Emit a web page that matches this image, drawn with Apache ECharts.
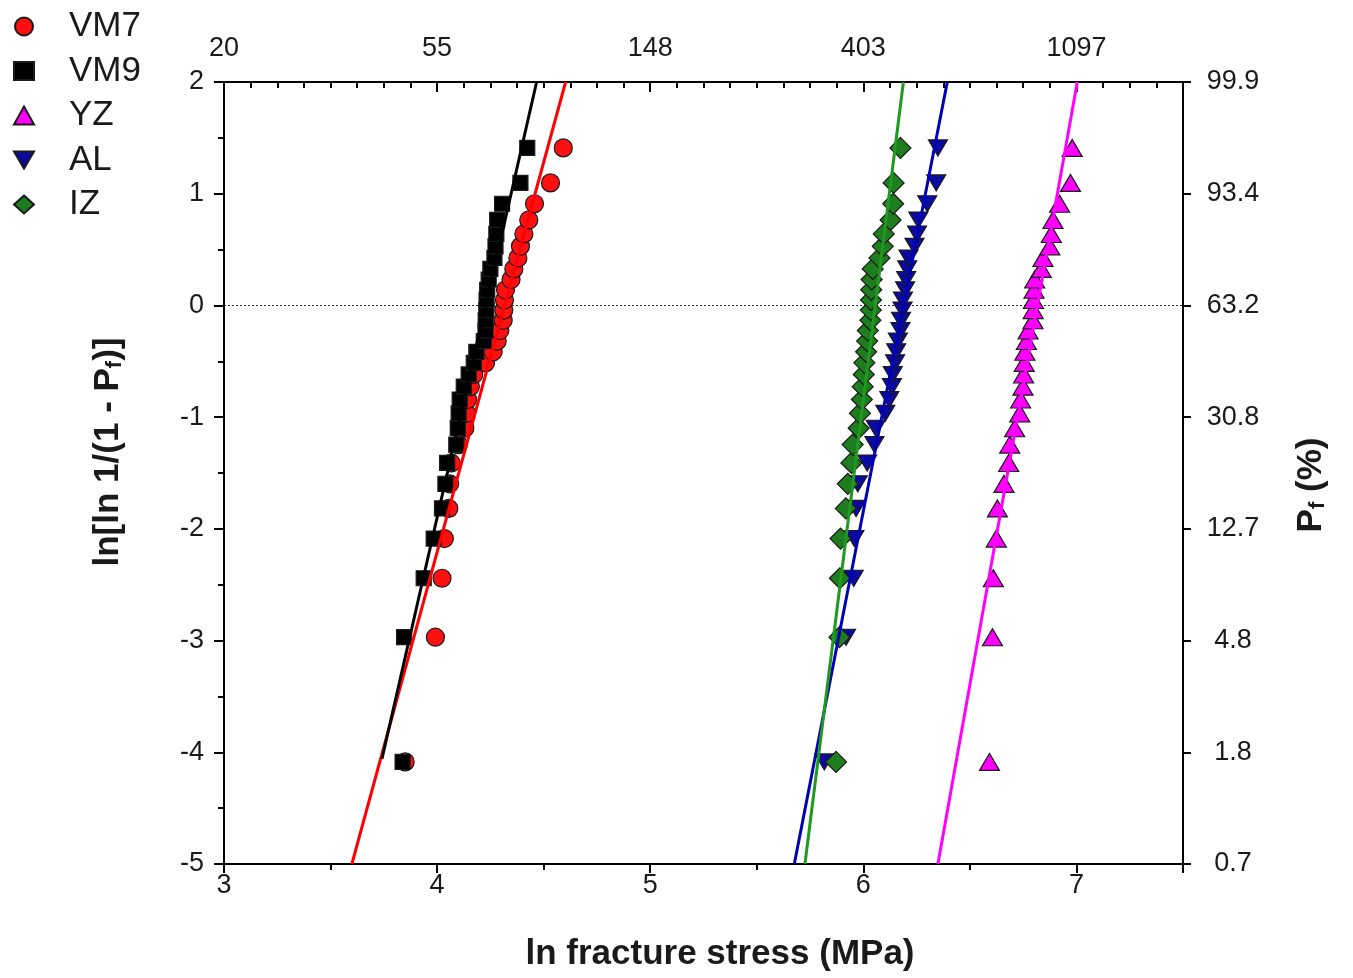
<!DOCTYPE html>
<html>
<head>
<meta charset="utf-8">
<script src="https://cdn.jsdelivr.net/npm/echarts@6/dist/echarts.min.js"></script>
<style>
html,body{margin:0;padding:0;background:#fff;}
#c{width:1353px;height:978px;}
</style>
</head>
<body>
<div id="c"></div>
<script>
// Weibull plotting positions (y) for ranks 1..30
const rankY = [-4.086,-2.970,-2.442,-2.087,-1.817,-1.597,-1.410,-1.246,-1.099,-0.966,
  -0.842,-0.727,-0.618,-0.514,-0.415,-0.319,-0.225,-0.133,-0.042,0.049,
  0.140,0.232,0.327,0.425,0.529,0.640,0.765,0.910,1.097,1.410];

// ln fracture stress for each rank
const vm7 = [3.850,3.992,4.023,4.034,4.055,4.059,4.066,4.100,4.130,4.138,
  4.143,4.156,4.172,4.227,4.263,4.282,4.294,4.310,4.313,4.316,
  4.321,4.347,4.360,4.379,4.391,4.407,4.430,4.457,4.532,4.592];
const vm9 = [3.838,3.845,3.937,3.984,4.023,4.039,4.047,4.090,4.097,4.101,
  4.106,4.125,4.148,4.172,4.184,4.219,4.227,4.228,4.231,4.232,
  4.235,4.242,4.250,4.269,4.274,4.278,4.282,4.305,4.391,4.423];
const yz = [6.592,6.606,6.610,6.624,6.629,6.660,6.682,6.687,6.710,6.734,
  6.738,6.749,6.752,6.755,6.758,6.765,6.773,6.796,6.797,6.798,
  6.801,6.804,6.835,6.843,6.875,6.882,6.890,6.921,6.972,6.980];
const al = [5.817,5.919,5.955,5.958,5.966,5.974,6.018,6.052,6.058,6.103,
  6.122,6.134,6.138,6.149,6.154,6.162,6.174,6.177,6.184,6.186,
  6.196,6.201,6.206,6.212,6.240,6.252,6.258,6.300,6.342,6.350];
const iz = [5.872,5.888,5.890,5.893,5.918,5.927,5.944,5.950,5.978,5.984,
  5.993,5.997,6.002,6.005,6.013,6.018,6.021,6.033,6.035,6.036,
  6.037,6.039,6.044,6.076,6.091,6.096,6.128,6.140,6.142,6.174];

// fitted lines (endpoints)
const vm7Fit = [[3.600,-5],[4.603,2]];
const vm9Fit = [[3.741,-4.06],[4.467,2]];
const yzFit = [[6.350,-5],[7.004,2]];
const alFit = [[5.676,-5],[6.394,2]];
const izFit = [[5.726,-5],[6.188,2]];

// tick labels
const bottomLabels = ['3','4','5','6','7'];
const topLabels = ['20','55','148','403','1097'];
const leftLabels = ['-5','-4','-3','-2','-1','0','1','2'];
const rightLabels = ['0.7','1.8','4.8','12.7','30.8','63.2','93.4','99.9'];

const seriesNames = ['VM7','VM9','YZ','AL','IZ'];

const FONT = "'Liberation Sans', Arial, sans-serif";
const pts = xs => xs.map((x,i)=>[x, rankY[i]]);

const chart = echarts.init(document.getElementById('c'));

function scatter(name, data, symbol, size, color){
  return {
    name, type:'scatter', data:pts(data), symbol, symbolSize:size,
    itemStyle:{color, borderColor:'#1a1a1a', borderWidth:1.2, opacity:1},
    z:3, silent:true
  };
}
function fit(data, color){
  return {
    type:'line', data, showSymbol:false, symbol:'none', silent:true,
    lineStyle:{color, width:3}, z:5
  };
}

const intLabel = arr => v => {
  const i = Math.round(v);
  return Math.abs(v - i) < 1e-6 ? (arr[i] ?? '') : '';
};

const option = {
  animation:false,
  backgroundColor:'#fff',
  textStyle:{fontFamily:FONT},
  grid:{left:224, right:170, top:82, bottom:114, containLabel:false},
  legend:{
    data:seriesNames,
    orient:'vertical', left:8, top:4,
    itemWidth:20, itemHeight:18, itemGap:9.5,
    textStyle:{fontSize:35, color:'#1a1a1a', fontFamily:FONT, lineHeight:35, padding:[0,0,0,30]},
    selectedMode:false
  },
  xAxis:[
    {
      type:'value', min:3, max:7.5, interval:1, position:'bottom',
      axisLine:{show:true, onZero:false, lineStyle:{color:'#000', width:2}},
      axisTick:{show:true, inside:false, length:9, lineStyle:{color:'#000', width:2}},
      minorTick:{show:true, splitNumber:2, length:6, lineStyle:{color:'#000', width:2}},
      axisLabel:{fontSize:27, color:'#1a1a1a', margin:8, fontFamily:FONT,
        formatter:(v)=>intLabel(bottomLabels)(v-3), showMaxLabel:false},
      splitLine:{show:false},
      name:'ln fracture stress (MPa)', nameLocation:'middle', nameGap:73,
      nameTextStyle:{fontSize:35, fontWeight:'bold', color:'#1a1a1a', fontFamily:FONT, padding:[0,0,0,33]}
    },
    {
      type:'value', min:3, max:7.5, interval:1, position:'top',
      axisLine:{show:true, onZero:false, lineStyle:{color:'#000', width:2}},
      axisTick:{show:true, inside:true, length:10, lineStyle:{color:'#000', width:2}},
      minorTick:{show:true, splitNumber:8, length:6, lineStyle:{color:'#000', width:2}},
      axisLabel:{fontSize:27, color:'#1a1a1a', margin:20, fontFamily:FONT,
        formatter:(v)=>intLabel(topLabels)(v-3), showMaxLabel:false},
      splitLine:{show:false}
    }
  ],
  yAxis:[
    {
      type:'value', min:-5, max:2, interval:1, position:'left',
      axisLine:{show:true, onZero:false, lineStyle:{color:'#000', width:2}},
      axisTick:{show:true, inside:false, length:10, lineStyle:{color:'#000', width:2}},
      minorTick:{show:true, splitNumber:2, length:6, lineStyle:{color:'#000', width:2}},
      axisLabel:{fontSize:27, color:'#1a1a1a', margin:20, fontFamily:FONT,
        formatter:(v)=>intLabel(leftLabels)(v+5)},
      splitLine:{show:false},
      name:'{a|ln[ln 1/(1 - P}{s|f}{a|)]}', nameLocation:'middle', nameGap:98,
      nameTextStyle:{color:'#1a1a1a', fontFamily:FONT, padding:[0,0,0,42],
        rich:{
          a:{fontSize:35, fontWeight:'bold', color:'#1a1a1a', fontFamily:FONT},
          s:{fontSize:22, fontWeight:'bold', color:'#1a1a1a', fontFamily:FONT, verticalAlign:'bottom', padding:[14,0,0,0]}
        }}
    },
    {
      type:'value', min:-5, max:2, interval:1, position:'right',
      axisLine:{show:true, onZero:false, lineStyle:{color:'#000', width:2}},
      axisTick:{show:true, inside:false, length:8, lineStyle:{color:'#000', width:2}},
      axisLabel:{fontSize:27, color:'#1a1a1a', margin:50, align:'center', fontFamily:FONT,
        formatter:(v)=>intLabel(rightLabels)(v+5)},
      splitLine:{show:false},
      name:'{a|P}{s|f}{a| (%)}', nameLocation:'middle', nameGap:110,
      nameTextStyle:{color:'#1a1a1a', fontFamily:FONT, padding:[0,24,0,0],
        rich:{
          a:{fontSize:35, fontWeight:'bold', color:'#1a1a1a', fontFamily:FONT},
          s:{fontSize:22, fontWeight:'bold', color:'#1a1a1a', fontFamily:FONT, verticalAlign:'bottom', padding:[14,0,0,0]}
        }}
    }
  ],
  series:[
    Object.assign(scatter('VM7', vm7, 'circle', 18, '#ff1010'), {
      markLine:{symbol:'none', silent:true, label:{show:false},
        lineStyle:{type:[2,2], color:'#333', width:1}, data:[{yAxis:0}], z:1}
    }),
    scatter('VM9', vm9, 'rect', 15, '#000000'),
    scatter('YZ', yz, 'triangle', [20,17], '#ff00ff'),
    scatter('AL', al, 'path://M0,0 L10,0 L5,8.5 Z', [19,16], '#0a0aa0'),
    scatter('IZ', iz, 'diamond', 21, '#1e7d1e'),
    fit(vm7Fit, '#ff0000'),
    fit(vm9Fit, '#000000'),
    fit(yzFit, '#ff00ff'),
    fit(alFit, '#0000b4'),
    fit(izFit, '#1f9a1f')
  ]
};
chart.setOption(option);
</script>
</body>
</html>
